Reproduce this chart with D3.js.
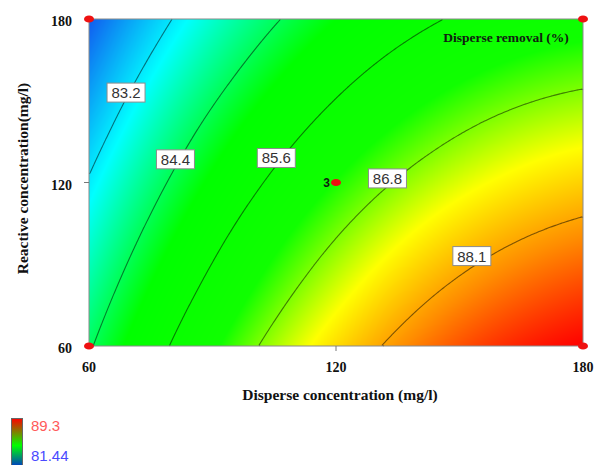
<!DOCTYPE html>
<html>
<head>
<meta charset="utf-8">
<script src="https://cdn.jsdelivr.net/npm/d3@7"></script>
<style>
  body { margin: 0; background: #fff; }
  svg { display: block; }
</style>
</head>
<body>
<svg id="chart" width="594" height="465"></svg>
<script>
// grid of predicted removal (%)
const disperse = [60, 80, 100, 120, 140, 160, 180];
const reactive = [60, 80, 100, 120, 140, 160, 180];
const removal = [
  [84.33, 85.63, 86.74, 87.67, 88.41, 88.97, 89.30], // reactive 60
  [83.98, 85.25, 86.33, 87.23, 87.95, 88.48, 88.83], // 80
  [83.62, 84.86, 85.92, 86.79, 87.48, 87.98, 88.30], // 100
  [83.25, 84.46, 85.49, 86.33, 86.99, 87.46, 87.76], // 120
  [82.86, 84.05, 85.05, 85.86, 86.49, 86.94, 87.20], // 140
  [82.47, 83.62, 84.59, 85.38, 85.98, 86.40, 86.64], // 160
  [82.06, 83.19, 84.13, 84.89, 85.46, 85.85, 86.06]  // 180
];
const levels = [83.2, 84.4, 85.6, 86.8, 88.1];
const labelDisperse = [69, 81, 105.5, 132.5, 153];
const labelReactive = [153, 128.5, 129, 121.5, 93];
const xTicks = [60, 120, 180];
const yTicks = [60, 120, 180];
const designX = [60, 60, 180, 180, 120];
const designY = [60, 180, 60, 180, 120];
const legendRange = [89.3, 81.44];

const plotLeft = 89, plotTop = 19, W = 494, H = 327;
const svg = d3.select('#chart');

const x = d3.scaleLinear().domain([60, 180]).range([plotLeft, plotLeft + W]);
const y = d3.scaleLinear().domain([60, 180]).range([plotTop + H, plotTop]);

const color = d3.scaleLinear()
  .domain([81.44, 82.1, 83.4, 84.9, 86.3, 87.4, 88.3, 89.3])
  .range(['#0028ff', '#1060f0', '#00ffff', '#00ff00', '#10ff00', '#ffff00', '#ff8c00', '#ff0000'])
  .interpolate(d3.interpolateRgb)
  .clamp(true);

// catmull-rom on the grid, quadratic ghost points at the edges
function cell(arr, i) {
  const n = arr.length;
  if (i < 0) return 3 * arr[0] - 3 * arr[1] + arr[2];
  if (i >= n) return 3 * arr[n - 1] - 3 * arr[n - 2] + arr[n - 3];
  return arr[i];
}
function cr(p0, p1, p2, p3, t) {
  return 0.5 * (2 * p1 + (-p0 + p2) * t + (2 * p0 - 5 * p1 + 4 * p2 - p3) * t * t +
    (-p0 + 3 * p1 - 3 * p2 + p3) * t * t * t);
}
function along(arr, g) {
  let i = Math.min(Math.max(Math.floor(g), 0), arr.length - 2);
  const t = g - i;
  return cr(cell(arr, i - 1), cell(arr, i), cell(arr, i + 1), cell(arr, i + 2), t);
}
const stepX = disperse[1] - disperse[0], stepY = reactive[1] - reactive[0];
function value(X, Y) {
  const gx = (X - disperse[0]) / stepX, gy = (Y - reactive[0]) / stepY;
  const col = reactive.map((r, j) => along(removal[j], gx));
  return along(col, gy);
}

// heat map
const canvas = document.createElement('canvas');
canvas.width = W; canvas.height = H;
const ctx = canvas.getContext('2d');
const img = ctx.createImageData(W, H);
for (let j = 0; j < H; j++) {
  const Y = y.invert(plotTop + j + 0.5);
  for (let i = 0; i < W; i++) {
    const c = d3.rgb(color(value(x.invert(plotLeft + i + 0.5), Y)));
    const k = (j * W + i) * 4;
    img.data[k] = c.r; img.data[k + 1] = c.g; img.data[k + 2] = c.b; img.data[k + 3] = 255;
  }
}
ctx.putImageData(img, 0, 0);
svg.append('image')
  .attr('x', plotLeft).attr('y', plotTop)
  .attr('width', W).attr('height', H)
  .attr('href', canvas.toDataURL());

// contour lines
const n = 247, m = 164;
const field = new Array(n * m);
for (let j = 0; j < m; j++) {
  for (let i = 0; i < n; i++) {
    field[j * n + i] = value(60 + (i + 0.5) / n * 120, 180 - (j + 0.5) / m * 120);
  }
}
const cx = d3.scaleLinear().domain([0, n]).range([plotLeft, plotLeft + W]);
const cy = d3.scaleLinear().domain([0, m]).range([plotTop, plotTop + H]);
const onEdge = p => p[0] <= 0 || p[0] >= n || p[1] <= 0 || p[1] >= m;
const line = d3.line().x(p => cx(p[0])).y(p => cy(p[1]));

const contours = d3.contours().size([n, m]).thresholds(levels)(field);
const lines = [];
contours.forEach(c => {
  c.coordinates.forEach(poly => poly.forEach(ring => {
    let parts = [], cur = [];
    for (let k = 0; k < ring.length - 1; k++) {
      const a = ring[k], b = ring[k + 1];
      if (onEdge(a) && onEdge(b)) {
        if (cur.length > 1) parts.push(cur);
        cur = [];
      } else {
        if (!cur.length) cur.push(a);
        cur.push(b);
      }
    }
    if (cur.length > 1) parts.push(cur);
    if (parts.length > 1 && !(onEdge(ring[0]) && onEdge(ring[1])) &&
        !(onEdge(ring[ring.length - 2]) && onEdge(ring[ring.length - 1]))) {
      const last = parts.pop();
      parts[0] = last.concat(parts[0].slice(1));
    }
    parts.forEach(p => lines.push(p));
  }));
});
svg.append('g')
  .selectAll('path')
  .data(lines)
  .join('path')
  .attr('d', line)
  .attr('fill', 'none')
  .attr('stroke', '#000')
  .attr('stroke-opacity', 0.5)
  .attr('stroke-width', 1.1);

// plot frame
svg.append('rect')
  .attr('x', plotLeft).attr('y', plotTop).attr('width', W).attr('height', H)
  .attr('fill', 'none').attr('stroke', '#8a8a8a').attr('stroke-width', 1);

// contour labels
const lab = svg.append('g').selectAll('g')
  .data(levels)
  .join('g')
  .attr('transform', (d, i) => `translate(${x(labelDisperse[i])},${y(labelReactive[i])})`);
lab.append('rect')
  .attr('x', -19).attr('y', -9.5).attr('width', 38).attr('height', 19)
  .attr('fill', '#fff').attr('stroke', '#8c8c8c').attr('stroke-width', 1);
lab.append('text')
  .attr('text-anchor', 'middle').attr('y', 5.5)
  .attr('font-family', 'Liberation Sans, Arial, sans-serif').attr('font-size', 15)
  .attr('fill', '#333')
  .text(d => d.toFixed(1));

// ticks
const xAxis = svg.append('g');
xAxis.selectAll('line').data([120]).join('line')
  .attr('x1', d => x(d)).attr('x2', d => x(d))
  .attr('y1', plotTop + H).attr('y2', plotTop + H + 5)
  .attr('stroke', '#777');
xAxis.selectAll('text').data(xTicks).join('text')
  .attr('x', d => x(d)).attr('y', plotTop + H + 26)
  .attr('text-anchor', 'middle')
  .attr('font-family', 'Liberation Serif, Times New Roman, serif').attr('font-weight', 'bold')
  .attr('font-size', 14).attr('fill', '#111')
  .text(d => d);
const yAxis = svg.append('g');
yAxis.selectAll('line').data([120]).join('line')
  .attr('x1', plotLeft - 5).attr('x2', plotLeft)
  .attr('y1', d => y(d)).attr('y2', d => y(d))
  .attr('stroke', '#777');
yAxis.selectAll('text').data(yTicks).join('text')
  .attr('x', plotLeft - 17).attr('y', d => y(d) + 7)
  .attr('text-anchor', 'end')
  .attr('font-family', 'Liberation Serif, Times New Roman, serif').attr('font-weight', 'bold')
  .attr('font-size', 14).attr('fill', '#111')
  .text(d => d);

// axis titles
svg.append('text')
  .attr('x', 340).attr('y', 400)
  .attr('text-anchor', 'middle')
  .attr('font-family', 'Liberation Serif, Times New Roman, serif').attr('font-weight', 'bold')
  .attr('font-size', 15.5).attr('fill', '#111')
  .text('Disperse concentration (mg/l)');
svg.append('text')
  .attr('transform', `translate(28,${y(120) - 4}) rotate(-90)`)
  .attr('text-anchor', 'middle')
  .attr('font-family', 'Liberation Serif, Times New Roman, serif').attr('font-weight', 'bold')
  .attr('font-size', 15.5).attr('fill', '#111')
  .text('Reactive concentration(mg/l)');
svg.append('text')
  .attr('x', 506).attr('y', 42)
  .attr('text-anchor', 'middle')
  .attr('font-family', 'Liberation Serif, Times New Roman, serif').attr('font-weight', 'bold')
  .attr('font-size', 13.5).attr('fill', '#102010')
  .text('Disperse removal (%)');

// design points
svg.append('g').selectAll('ellipse')
  .data(designX)
  .join('ellipse')
  .attr('cx', (d, i) => x(d)).attr('cy', (d, i) => y(designY[i]))
  .attr('rx', 5).attr('ry', 3.6)
  .attr('fill', '#ee1111');
svg.append('text')
  .attr('x', x(120) - 6).attr('y', y(120) + 4)
  .attr('text-anchor', 'end')
  .attr('font-family', 'Liberation Sans, Arial, sans-serif').attr('font-weight', 'bold')
  .attr('font-size', 12).attr('fill', '#102010')
  .text('3');

// colour legend
const grad = svg.append('defs').append('linearGradient')
  .attr('id', 'lg').attr('x1', 0).attr('x2', 0).attr('y1', 0).attr('y2', 1);
grad.selectAll('stop')
  .data(['#ff0000', '#00ff00', '#0000ff'])
  .join('stop')
  .attr('offset', (d, i) => i / 2)
  .attr('stop-color', d => d);
svg.append('rect')
  .attr('x', 11.5).attr('y', 418.5).attr('width', 11).attr('height', 54)
  .attr('fill', 'url(#lg)').attr('stroke', '#666').attr('stroke-width', 1);
svg.append('g').selectAll('text')
  .data(legendRange)
  .join('text')
  .attr('x', 31).attr('y', (d, i) => i ? 461 : 431)
  .attr('font-family', 'Liberation Sans, Arial, sans-serif')
  .attr('font-size', 15)
  .attr('fill', (d, i) => i ? '#4a4aff' : '#ff5a5a')
  .text(d => d);
</script>
</body>
</html>
